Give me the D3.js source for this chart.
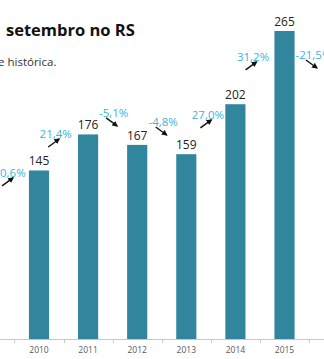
<!DOCTYPE html>
<html><head><meta charset="utf-8">
<script src="https://cdn.jsdelivr.net/npm/d3@7"></script>
<style>
html,body{margin:0;padding:0;background:#fff;overflow:hidden;}
svg{display:block;}
</style></head>
<body>
<script>
// ---- data ----
const years = ["2009","2010","2011","2012","2013","2014","2015","2016"];
const values = [111, 145, 176, 167, 159, 202, 265, 208];
const changeLabels = [null, "30,6%", "21,4%", "-5,1%", "-4,8%", "27,0%", "31,2%", "-21,5%"];
// annotation placement: vertical level (value units) and horizontal shift (fraction of a category step)
const changeLevel = [null, 142.9, 176.4, 194.5, 186.7, 192.8, 242.7, 244.4];
const changeShift = [null, -0.10, -0.16, 0.02, 0.03, -0.06, -0.14, 0.09];
const titleText = "setembro no RS";
const subtitleText = "e histórica.";

// ---- layout ----
const W = 324, H = 359;
const baseY = 339;
const svg = d3.select("body").append("svg").attr("width", W).attr("height", H);

svg.append("defs").append("marker")
  .attr("id","ah").attr("viewBox","0 0 10 10").attr("refX",8).attr("refY",5)
  .attr("markerWidth",4.2).attr("markerHeight",4.2).attr("orient","auto")
  .append("path").attr("d","M0,0 L10,5 L0,10 z").attr("fill","#111");

const x = d3.scaleBand().domain(years).range([-34.65, 358.15]).paddingInner(0.59).paddingOuter(0.295);
const y = d3.scaleLinear().domain([0, 265]).range([baseY, 31]);
const step = x.step();
const cx = d => x(d) + x.bandwidth()/2;
// only categories whose bar lies inside the picture are drawn (the chart is a crop)
const inView = d => x(d) >= 0 && x(d) + x.bandwidth() <= W;
const shown = years.filter(inView);

// title
svg.append("text").attr("x", 6).attr("y", 36)
  .attr("font-family","'Open Sans', sans-serif").attr("font-weight","bold")
  .attr("font-size", 16.5).attr("fill","#111").text(titleText);
svg.append("text").attr("x", -2).attr("y", 66)
  .attr("font-family","'Open Sans', sans-serif")
  .attr("font-size", 11.5).attr("fill","#333").text(subtitleText);

const val = d => values[years.indexOf(d)];

// bars
svg.selectAll("rect.bar").data(shown).join("rect")
  .attr("class","bar")
  .attr("x", d => x(d)).attr("width", x.bandwidth())
  .attr("y", d => y(val(d))).attr("height", d => baseY - y(val(d)))
  .attr("fill","#31859c");

// value labels
svg.selectAll("text.val").data(shown).join("text")
  .attr("class","val")
  .attr("x", d => cx(d)).attr("y", d => y(val(d)) - 5)
  .attr("text-anchor","middle")
  .attr("font-family","'Open Sans', sans-serif").attr("font-size", 12)
  .attr("fill","#222").text(d => val(d));

// axis
const axisG = svg.append("g").attr("transform", `translate(0,${baseY})`);
axisG.append("line").attr("x1",0).attr("x2",W).attr("y1",0.5).attr("y2",0.5)
  .attr("stroke","#c8c8c8").attr("stroke-width",1);
const bounds = years.map(d => x(d) - (step - x.bandwidth())/2).filter(b => b > 0 && b < W);
axisG.selectAll("line.tk").data(bounds).join("line").attr("class","tk")
  .attr("x1", d => Math.round(d)+0.5).attr("x2", d => Math.round(d)+0.5)
  .attr("y1",0.5).attr("y2",4).attr("stroke","#c8c8c8");
axisG.selectAll("text.yr").data(shown).join("text").attr("class","yr")
  .attr("x", d => cx(d)).attr("y", 14)
  .attr("text-anchor","middle")
  .attr("font-family","'Open Sans', sans-serif").attr("font-size", 8.5)
  .attr("fill","#595959").text(d => d);

// change annotations
const ann = years.map((d,i) => ({d, i, label: changeLabels[i]})).filter(a => a.label);
ann.forEach(a => {
  const mid = (cx(years[a.i-1]) + cx(years[a.i])) / 2 + changeShift[a.i]*step;
  const ly = y(changeLevel[a.i]);
  svg.append("text").attr("x", mid).attr("y", ly + 4)
    .attr("text-anchor","middle")
    .attr("font-family","'Open Sans', sans-serif").attr("font-size", 11.5)
    .attr("fill","#3cb4dc").text(a.label);
  const up = values[a.i] >= values[a.i-1];
  const x1 = mid - 7.5, x2 = mid + 3.5;
  const y1 = up ? ly + 13 : ly + 5, y2 = up ? ly + 5 : ly + 13;
  svg.append("line").attr("x1",x1).attr("y1",y1).attr("x2",x2).attr("y2",y2)
    .attr("stroke","#111").attr("stroke-width",1.4).attr("marker-end","url(#ah)");
});
</script>
</body></html>
